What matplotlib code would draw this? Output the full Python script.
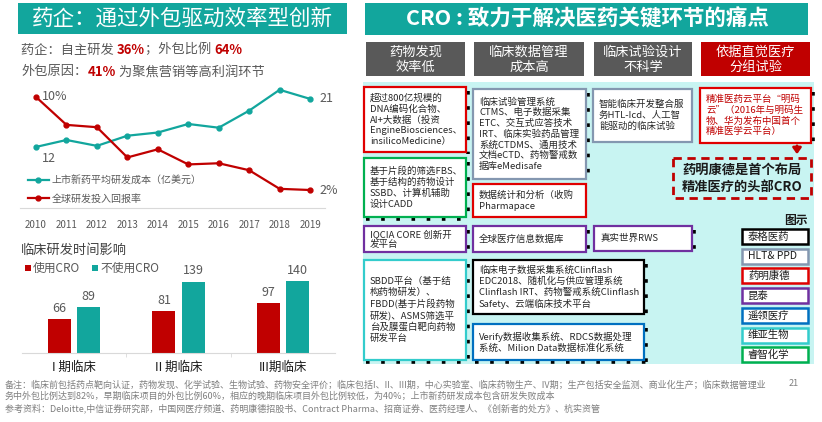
import matplotlib
matplotlib.use("Agg")
import matplotlib.pyplot as plt
from matplotlib.patches import Rectangle

plt.rcParams['font.family'] = ['Noto Sans CJK SC', 'DejaVu Sans']

W, H = 822, 422
TEAL = '#12A69D'
RED = '#C00000'
DGRAY = '#595959'

# ---- data -------------------------------------------------------------
years = [2010, 2011, 2012, 2013, 2014, 2015, 2016, 2017, 2018, 2019]
cost = [12, 13.3, 12.2, 14.1, 14.7, 16.3, 15.6, 18.8, 22.7, 21]      # 亿美元
roi = [10, 7.6, 7.4, 4.8, 5.5, 4.2, 4.3, 3.7, 2.1, 2.0]              # %
cost_label = '上市新药平均研发成本（亿美元）'
roi_label = '全球研发投入回报率'

phases = ['I 期临床', 'II 期临床', 'III期临床']
with_cro = [66, 81, 97]
without_cro = [89, 139, 140]

pain_points = ['药物发现\n效率低', '临床数据管理\n成本高', '临床试验设计\n不科学', '依据直觉医疗\n分组试验']

box_texts = [
    '超过800亿规模的\nDNA编码化合物、\nAI+大数据（投资\nEngineBiosciences、\ninsilicoMedicine）',
    '临床试验管理系统\nCTMS、电子数据采集\nETC、交互式应答技术\nIRT、临床实验药品管理\n系统CTDMS、通用技术\n文档eCTD、药物警戒数\n据库eMedisafe',
    '智能临床开发整合服\n务HTL-Icd、人工智\n能驱动的临床试验',
    '精准医药云平台“明码\n云”（2016年与明码生\n物、华为发布中国首个\n精准医学云平台）',
    '基于片段的筛选FBS、\n基于结构的药物设计\nSSBD、计算机辅助\n设计CADD',
    '数据统计和分析（收购\nPharmapace',
    'IQCIA CORE 创新开\n发平台',
    '全球医疗信息数据库',
    '真实世界RWS',
    'SBDD平台（基于结\n构药物研发）、\nFBDD(基于片段药物\n研发)、ASMS筛选平\n台及膜蛋白靶向药物\n研发平台',
    '临床电子数据采集系统Clinflash\nEDC2018、随机化与供应管理系统\nClinflash IRT、药物警戒系统Clinflash\nSafety、云端临床技术平台',
    'Verify数据收集系统、RDCS数据处理\n系统、Milion Data数据标准化系统',
]
box_owner = [2, 1, 1, 2, 6, 2, 3, 3, 3, 5, 0, 4]

companies = ['泰格医药', 'HLT& PPD', '药明康德', '昆泰', '遥领医疗', '维亚生物', '睿智化学']
company_colors = ['#000000', '#8497B0', '#E00000', '#7030A0', '#0070C0', '#33CCCC', '#00B050']

highlight = '药明康德是首个布局\n精准医疗的头部CRO'

footer = [
    '备注：临床前包括药点靶向认证，药物发现、化学试验、生物试验、药物安全评价；临床包括I、II、III期，中心实验室、临床药物生产、IV期；生产包括安全监测、商业化生产；临床数据管理业',
    '务中外包比例达到82%，早期临床项目的外包比例60%，相应的晚期临床项目外包比例较低，为40%；上市新药研发成本包含研发失败成本',
    '参考资料：Deloitte,中信证券研究部，中国网医疗频道、药明康德招股书、Contract Pharma、招商证券、医药经理人、《创新者的处方》、杭实资管',
]

# ---- figure -----------------------------------------------------------
fig = plt.figure(figsize=(W / 100, H / 100), dpi=100)
ov = fig.add_axes([0, 0, 1, 1], zorder=0)
ov.set_xlim(0, W)
ov.set_ylim(H, 0)
ov.axis('off')
renderer = fig.canvas.get_renderer()


def px_axes(x0, y0, x1, y1):
    a = fig.add_axes([x0 / W, 1 - y1 / H, (x1 - x0) / W, (y1 - y0) / H], zorder=2)
    a.patch.set_alpha(0)
    return a


def rich(x, y, parts, size):
    for s, color, weight in parts:
        t = ov.text(x, y, s, fontsize=size, color=color, fontweight=weight, va='center', ha='left')
        x += t.get_window_extent(renderer).width


# left title + subtitles
ov.add_patch(Rectangle((18, 3), 329, 31, color=TEAL, lw=0))
ov.text(182, 18.5, '药企：通过外包驱动效率型创新', fontsize=15.5, color='white', ha='center', va='center')
rich(21, 50, [('药企：自主研发 ', DGRAY, 'normal'), ('36%', RED, 'bold'),
              ('；外包比例 ', DGRAY, 'normal'), ('64%', RED, 'bold')], 9.5)
rich(21, 72, [('外包原因：', DGRAY, 'normal'), ('41%', RED, 'bold'),
              (' 为聚焦营销等高利润环节', DGRAY, 'normal')], 9.5)

# ---- line chart ---------------------------------------------------------
ax1 = px_axes(20, 85, 325, 208)
ax2 = ax1.twinx()
ax2.patch.set_alpha(0)
l1, = ax1.plot(years, cost, color=TEAL, lw=1.6, marker='o', ms=3.5, label=cost_label)
l2, = ax2.plot(years, roi, color=RED, lw=1.6, marker='o', ms=3.5, label=roi_label)
ax1.set_xlim(2009.474, 2019.49)
ax1.set_ylim(0.56, 23.6)
ax2.set_ylim(0.452, 11.03)
for a in (ax1, ax2):
    for s in a.spines.values():
        s.set_visible(False)
    a.set_yticks([])
ax1.spines['bottom'].set_visible(True)
ax1.spines['bottom'].set_color('#D9D9D9')
ax1.set_xticks(years)
ax1.set_xticklabels([str(y) for y in years])
ax1.tick_params(axis='x', length=0, pad=9, labelsize=7, labelcolor=DGRAY)
ax2.annotate(f'{roi[0]:.0f}%', (years[0], roi[0]), xytext=(4, 0), textcoords='offset points',
             va='center', ha='left', fontsize=9, color=DGRAY)
ax2.annotate(f'{roi[-1]:.0f}%', (years[-1], roi[-1]), xytext=(7, 0), textcoords='offset points',
             va='center', ha='left', fontsize=9, color=DGRAY)
ax1.annotate(f'{cost[0]:.0f}', (years[0], cost[0]), xytext=(4, -8), textcoords='offset points',
             va='center', ha='left', fontsize=9, color=DGRAY)
ax1.annotate(f'{cost[-1]:.0f}', (years[-1], cost[-1]), xytext=(7, 0), textcoords='offset points',
             va='center', ha='left', fontsize=9, color=DGRAY)
ax1.legend(handles=[l1, l2], loc='upper left', bbox_to_anchor=(0.026, 0.265), frameon=False,
           fontsize=7.2, handlelength=2.1, handletextpad=0.3, labelspacing=0.85,
           borderaxespad=0, borderpad=0, labelcolor=DGRAY)

# ---- bar chart ----------------------------------------------------------
ov.text(21, 250, '临床研发时间影响', fontsize=9.5, color='#404040', va='center', ha='left')
ov.add_patch(Rectangle((25, 265), 6, 6, color=RED, lw=0))
ov.text(33, 268, '使用CRO', fontsize=8.5, color=DGRAY, va='center', ha='left')
ov.add_patch(Rectangle((92, 265), 6, 6, color=TEAL, lw=0))
ov.text(100, 268, '不使用CRO', fontsize=8.5, color=DGRAY, va='center', ha='left')

axb = px_axes(22, 270, 335, 353)
xs = list(range(len(phases)))
b1 = axb.bar([x - 0.14 for x in xs], with_cro, width=0.22, color=RED)
b2 = axb.bar([x + 0.14 for x in xs], without_cro, width=0.22, color=TEAL)
axb.bar_label(b1, padding=3, fontsize=9, color=DGRAY)
axb.bar_label(b2, padding=3, fontsize=9, color=DGRAY)
axb.set_xlim(-0.5, 2.5)
axb.set_ylim(0, 161.5)
for s in ('top', 'left', 'right'):
    axb.spines[s].set_visible(False)
axb.spines['bottom'].set_color('#D9D9D9')
axb.set_yticks([])
axb.set_xticks(xs)
axb.set_xticklabels(phases)
axb.tick_params(axis='x', length=0, pad=6, labelsize=9, labelcolor='#1a1a1a')
axb.set_xticks([0.5, 1.5], minor=True)
axb.tick_params(axis='x', which='minor', length=3, color='#D9D9D9')

# ---- right panel ----------------------------------------------------------
ov.add_patch(Rectangle((365, 3), 443, 32, color=TEAL, lw=0))
ov.text(587, 19, 'CRO : 致力于解决医药关键环节的痛点', fontsize=15.5, color='white',
        fontweight='bold', ha='center', va='center')

head_pos = [(366, 465), (474, 584), (594, 692), (701, 810)]
head_col = [DGRAY, DGRAY, DGRAY, RED]
for (x0, x1), txt, c in zip(head_pos, pain_points, head_col):
    ov.add_patch(Rectangle((x0, 42), x1 - x0, 34, color=c, lw=0))
    ov.text((x0 + x1) / 2, 59.5, txt, fontsize=9.5, color='white', ha='center', va='center',
            linespacing=1.25)

ov.add_patch(Rectangle((363, 82), 451, 282, color='#C8F4F2', lw=0))

box_pos = [(364, 87, 466, 152), (473, 89, 586, 179), (593, 89, 692, 142), (700, 88, 811, 143),
           (364, 158, 466, 217), (473, 184, 586, 217),
           (364, 226, 466, 252), (473, 226, 586, 252), (594, 226, 692, 251),
           (364, 260, 466, 360), (473, 260, 644, 314), (473, 324, 644, 360)]
shadow = ['r', 'r', '', 'r', 'rb', '', 'r', 'r', 'r', 'rb', 'r', 'rb']
dash = (0, (1.0, 3.2))
for (x0, y0, x1, y1), sh in zip(box_pos, shadow):
    if 'r' in sh:
        ov.plot([x1 + 2, x1 + 2], [y0 + 4, y1 + 2], color='black', lw=2.6, ls=dash, zorder=1)
    if 'b' in sh:
        ov.plot([x0 + 2, x1 + 2], [y1 + 2, y1 + 2], color='black', lw=2.6, ls=dash, zorder=1)

for (x0, y0, x1, y1), txt, ow in zip(box_pos, box_texts, box_owner):
    c = company_colors[ow]
    ov.add_patch(Rectangle((x0, y0), x1 - x0, y1 - y0, facecolor='white', edgecolor=c, lw=1.6, zorder=2))
    tc = RED if txt.startswith('精准医药') else '#262626'
    ov.text(x0 + 6, (y0 + y1) / 2, txt, fontsize=6.8, color=tc, ha='left', va='center',
            linespacing=1.22, zorder=3)

# arrow + highlight
ov.annotate('', xy=(797, 157), xytext=(797, 143),
            arrowprops=dict(arrowstyle='-|>,head_width=0.25,head_length=0.35', color=RED, lw=2))
ov.add_patch(Rectangle((673, 158), 138, 40, facecolor='none', edgecolor=RED, lw=2,
                       ls=(0, (3, 2)), zorder=2))
ov.text(742, 178, highlight, fontsize=9.5, fontweight='bold', color='#1a1a1a', ha='center',
        va='center', linespacing=1.25, zorder=3)

# legend of companies
ov.text(808, 220, '图示', fontsize=8.5, fontweight='bold', color='#1a1a1a', ha='right', va='center')
for i, (name, c) in enumerate(zip(companies, company_colors)):
    y0 = 229 + i * 19.7
    ov.add_patch(Rectangle((742, y0), 66, 15, facecolor='white', edgecolor=c, lw=1.8, zorder=2))
    ov.text(748, y0 + 7.5, name, fontsize=7.5, color='#1a1a1a', ha='left', va='center', zorder=3)

# footer
for i, line in enumerate(footer):
    ov.text(5, 385 + i * 11.5, line, fontsize=6.5, color='#7F7F7F', ha='left', va='center')
ov.text(794, 383, '21', fontsize=6.5, color='#7F7F7F', ha='center', va='center')

fig.savefig('out.png', dpi=100)
